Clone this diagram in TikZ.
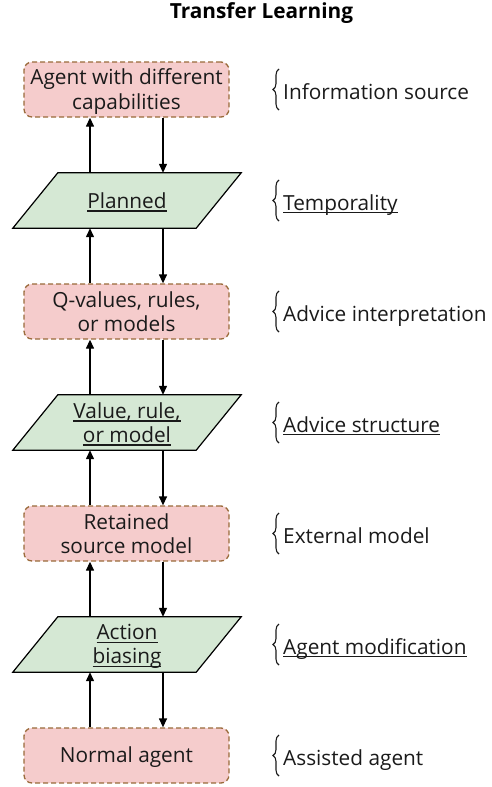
\documentclass[tikz,border=0pt]{standalone}
\usepackage{fontspec}
\setmainfont{Open Sans}
\usetikzlibrary{arrows.meta,decorations.pathreplacing,backgrounds}
\definecolor{boxfill}{HTML}{F5CCCC}
\definecolor{boxline}{HTML}{9A6A3A}
\definecolor{parafill}{HTML}{D5E8D4}
\definecolor{txt}{HTML}{1A1A1A}
\newcommand\ds{\rule[-4.2pt]{0pt}{24pt}}
\newcommand\myul[1]{\setbox0\hbox{#1}\rlap{\rule[-3.3pt]{\wd0}{1.3pt}}\box0}
\begin{document}
\begin{tikzpicture}[x=1pt,y=-1pt,
  font=\fontsize{20.8}{24}\selectfont,
  agentbox/.style={draw=boxline, fill=boxfill, dash pattern=on 5pt off 3pt, line width=1.3pt,
    rounded corners=8pt, minimum width=205pt, minimum height=55pt, inner sep=0pt, align=center, text=txt},
  parabox/.style={minimum width=183pt, minimum height=55pt, inner sep=0pt, align=center, text=txt},
  parashape/.style={draw=black, fill=parafill, line width=1.2pt, line join=miter},
  flow/.style={line width=1.3pt, -{Triangle[length=9pt,width=8pt]}},
  brc/.style={decorate, decoration={brace, amplitude=6pt}, line width=1.1pt, txt},
  lab/.style={anchor=base west, inner sep=0pt, text=txt},
  ttl/.style={font=\fontsize{20.8}{24}\selectfont\bfseries, anchor=base, inner sep=0pt, text=black}]
\useasboundingbox (0,0) rectangle (492,787);

\node[ttl] (title) at (261.5,19) {Transfer Learning};

\node[agentbox] (b1) at (126.5,89.5) {\ds Agent with different\\\ds capabilities};
\node[parabox]  (p1) at (127,200.5) {\ds\myul{Planned}};
\node[agentbox] (b2) at (126.5,311.5) {\ds Q-values, rules,\\\ds or models};
\node[parabox]  (p2) at (127,422.5) {\ds\myul{Value, rule,}\\\ds\myul{or model}};
\node[agentbox] (b3) at (126.5,533.5) {\ds Retained\\\ds source model};
\node[parabox]  (p3) at (127,644.5) {\ds\myul{Action}\\\ds\myul{biasing}};
\node[agentbox] (b4) at (126.5,755.5) {\ds Normal agent};

\begin{scope}[on background layer]
\foreach \n in {p1,p2,p3}
  \draw[parashape] ([xshift=22.5pt]\n.north west) -- ([xshift=22.5pt]\n.north east)
    -- ([xshift=-22.5pt]\n.south east) -- ([xshift=-22.5pt]\n.south west) -- cycle;
\end{scope}

\coordinate (U) at (90,0);
\coordinate (D) at (163,0);
\foreach \a/\b in {b1/p1,p1/b2,b2/p2,p2/b3,b3/p3,p3/b4}{
  \draw[flow] (\b.north -| U) -- (\a.south -| U);
  \draw[flow] (\a.south -| D) -- (\b.north -| D);
}

\foreach \c/\t [count=\i] in {89.5/Information source, 200.5/\myul{Temporality},
  311.5/Advice interpretation, 422.5/\myul{Advice structure}, 533.5/External model,
  644.5/\myul{Agent modification}, 755.5/Assisted agent}{
  \draw[brc] (279,\c+20.5) -- (279,\c-20.5);
  \node[lab] (l\i) at (283,\c+9.5) {\t};
}
\end{tikzpicture}
\end{document}
